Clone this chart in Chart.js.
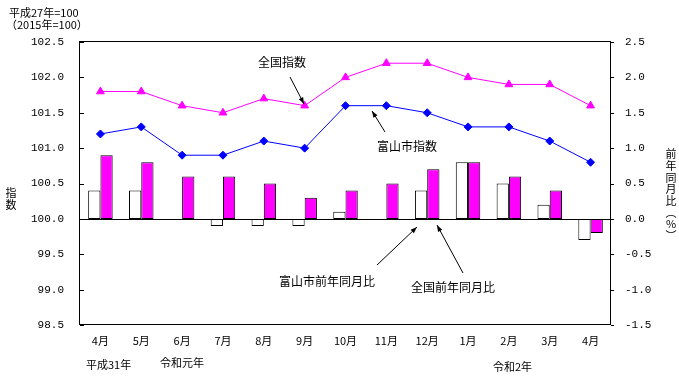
<!DOCTYPE html>
<html lang="ja">
<head>
    <meta charset="UTF-8">
    <title>消費者物価指数</title>
    <script src="https://cdn.jsdelivr.net/npm/chart.js"></script>
    <style>
        body { margin: 0; background: #fff; }
        #wrap { width: 679px; height: 377px; position: relative; }
    </style>
</head>
<body>
<div id="wrap"><canvas id="cpiChart"></canvas></div>
<script>
    // データ
    const months = ["4月", "5月", "6月", "7月", "8月", "9月", "10月", "11月", "12月", "1月", "2月", "3月", "4月"];
    const zenkokuIndex = [101.8, 101.8, 101.6, 101.5, 101.7, 101.6, 102.0, 102.2, 102.2, 102.0, 101.9, 101.9, 101.6];
    const toyamaIndex = [101.2, 101.3, 100.9, 100.9, 101.1, 101.0, 101.6, 101.6, 101.5, 101.3, 101.3, 101.1, 100.8];
    const toyamaYoY = [0.4, 0.4, 0.0, -0.1, -0.1, -0.1, 0.1, 0.0, 0.4, 0.8, 0.5, 0.2, -0.3];
    const zenkokuYoY = [0.9, 0.8, 0.6, 0.6, 0.5, 0.3, 0.4, 0.5, 0.7, 0.8, 0.6, 0.4, -0.2];

    const jpFont = '"Noto Sans CJK JP", sans-serif';
    const numFont = '"Liberation Mono", monospace';

    function arrow(ctx, x1, y1, x2, y2) {
        ctx.save();
        ctx.strokeStyle = '#000';
        ctx.fillStyle = '#000';
        ctx.lineWidth = 1;
        ctx.beginPath();
        ctx.moveTo(x1, y1);
        ctx.lineTo(x2, y2);
        ctx.stroke();
        const a = Math.atan2(y2 - y1, x2 - x1);
        ctx.beginPath();
        ctx.moveTo(x2, y2);
        ctx.lineTo(x2 - 7 * Math.cos(a - 0.35), y2 - 7 * Math.sin(a - 0.35));
        ctx.lineTo(x2 - 7 * Math.cos(a + 0.35), y2 - 7 * Math.sin(a + 0.35));
        ctx.closePath();
        ctx.fill();
        ctx.restore();
    }

    const framePlugin = {
        id: 'frame',
        beforeDatasetsDraw(chart) {
            const { ctx, chartArea: a, scales } = chart;
            const y0 = Math.round(scales.y2.getPixelForValue(0)) + 0.5;
            ctx.save();
            ctx.strokeStyle = '#000';
            ctx.lineWidth = 1;
            ctx.beginPath();
            ctx.moveTo(a.left, y0);
            ctx.lineTo(a.right, y0);
            ctx.stroke();
            ctx.restore();
        },
        afterDraw(chart) {
            const { ctx, chartArea: a, scales } = chart;
            ctx.save();
            ctx.strokeStyle = '#000';
            ctx.lineWidth = 1;
            ctx.strokeRect(a.left - 0.5, a.top - 0.5, a.right - a.left, a.bottom - a.top);
            // 目盛り
            ctx.beginPath();
            scales.y.ticks.forEach(t => {
                const yy = Math.round(scales.y.getPixelForValue(t.value)) + 0.5;
                ctx.moveTo(a.left, yy); ctx.lineTo(a.left + 4, yy);
            });
            scales.y2.ticks.forEach(t => {
                const yy = Math.round(scales.y2.getPixelForValue(t.value)) + 0.5;
                ctx.moveTo(a.right, yy); ctx.lineTo(a.right + 3, yy);
            });
            ctx.stroke();

            ctx.fillStyle = '#000';
            ctx.textBaseline = 'middle';
            ctx.textAlign = 'left';
            ctx.font = '11px ' + jpFont;
            ctx.fillText('平成27年=100', 9, 13);
            ctx.fillText('（2015年=100）', 6, 25);

            ctx.fillText('平成31年', 86, 365);
            ctx.fillText('令和元年', 160, 363);
            ctx.fillText('令和2年', 493, 367);

            // 軸タイトル
            ctx.textAlign = 'center';
            ['指', '数'].forEach((c, i) => ctx.fillText(c, 11, 193 + i * 12));
            ['前', '年', '同', '月', '比', '︵', '%', '︶'].forEach((c, i) => ctx.fillText(c, 671, 154 + i * 11.7));

            // 注記
            ctx.textAlign = 'left';
            ctx.font = '12px ' + jpFont;
            ctx.fillText('全国指数', 258, 62);
            ctx.fillText('富山市指数', 377, 146);
            ctx.fillText('富山市前年同月比', 279, 281);
            ctx.fillText('全国前年同月比', 411, 287);
            ctx.restore();

            arrow(ctx, 290, 77, 304, 104);
            arrow(ctx, 385, 132, 372, 111);
            arrow(ctx, 377, 265, 417, 227);
            arrow(ctx, 463, 273, 437, 225);
        }
    };

    const ctx = document.getElementById('cpiChart').getContext('2d');
    new Chart(ctx, {
        type: 'bar',
        data: {
            labels: months,
            datasets: [
                {
                    type: 'line',
                    label: '全国指数',
                    data: zenkokuIndex,
                    yAxisID: 'y',
                    borderColor: '#ff00ff',
                    backgroundColor: '#ff00ff',
                    borderWidth: 1,
                    pointStyle: 'triangle',
                    pointRadius: 4.5,
                    pointBorderWidth: 1,
                    tension: 0,
                    order: 0
                },
                {
                    type: 'line',
                    label: '富山市指数',
                    data: toyamaIndex,
                    yAxisID: 'y',
                    borderColor: '#0000ff',
                    backgroundColor: '#0000ff',
                    borderWidth: 1,
                    pointStyle: 'rectRot',
                    pointRadius: 4,
                    pointBorderWidth: 1,
                    tension: 0,
                    order: 0
                },
                {
                    label: '富山市前年同月比',
                    data: toyamaYoY,
                    yAxisID: 'y2',
                    backgroundColor: '#ffffff',
                    borderColor: '#000000',
                    borderWidth: 1,
                    borderSkipped: false,
                    categoryPercentage: 0.6,
                    barPercentage: 1.0,
                    order: 1
                },
                {
                    label: '全国前年同月比',
                    data: zenkokuYoY,
                    yAxisID: 'y2',
                    backgroundColor: '#ff00ff',
                    borderColor: '#000000',
                    borderWidth: 1,
                    borderSkipped: false,
                    categoryPercentage: 0.6,
                    barPercentage: 1.0,
                    order: 1
                }
            ]
        },
        options: {
            responsive: true,
            maintainAspectRatio: false,
            animation: false,
            layout: { padding: { top: 42, left: 0, right: 0, bottom: 0 } },
            plugins: {
                legend: { display: false },
                tooltip: { enabled: false }
            },
            scales: {
                x: {
                    grid: { display: false, drawTicks: false },
                    border: { display: false },
                    ticks: { color: '#000', font: { family: jpFont, size: 11 }, padding: 9, maxRotation: 0, autoSkip: false },
                    afterFit: s => { s.height = 52; }
                },
                y: {
                    position: 'left',
                    min: 98.5,
                    max: 102.5,
                    grid: { display: false, drawTicks: false },
                    border: { display: false },
                    ticks: { stepSize: 0.5, color: '#000', font: { family: numFont, size: 11 }, padding: 16, callback: v => v.toFixed(1) },
                    afterFit: s => { s.width = 80; }
                },
                y2: {
                    position: 'right',
                    min: -1.5,
                    max: 2.5,
                    grid: { display: false, drawTicks: false },
                    border: { display: false },
                    ticks: { stepSize: 0.5, color: '#000', font: { family: numFont, size: 11 }, padding: 14, callback: v => v.toFixed(1) },
                    afterFit: s => { s.width = 68; }
                }
            }
        },
        plugins: [framePlugin]
    });
</script>
</body>
</html>
